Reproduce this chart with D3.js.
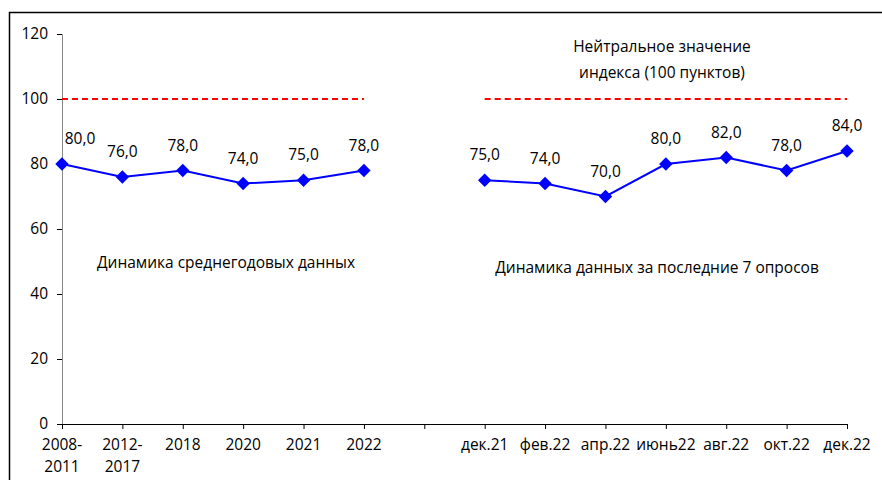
<!DOCTYPE html>
<html lang="ru">
<head>
    <meta charset="UTF-8"/>
    <title>D3</title>
    <script src="https://d3js.org/d3.v7.min.js" charset="utf-8"></script>
    <style type="text/css">
        body { margin: 0; background: #fff; }
        text {
            font-family: "Open Sans", sans-serif;
            font-size: 15.5px;
            fill: #000;
        }
        path.line {
            fill: none;
            stroke: #0000ff;
            stroke-width: 2px;
        }
        path.ref {
            fill: none;
            stroke: #ff0000;
            stroke-width: 2px;
            stroke-dasharray: 6,4;
        }
    </style>
</head>
<body>
<div id="chart"></div>
<script type="text/javascript">
    // categories (empty slot separates the two groups)
    var categories = ["2008-2011", "2012-2017", "2018", "2020", "2021", "2022", "",
        "дек.21", "фев.22", "апр.22", "июнь22", "авг.22", "окт.22", "дек.22"];
    var values = [80, 76, 78, 74, 75, 78, null, 75, 74, 70, 80, 82, 78, 84];
    var neutral = [100, 100, 100, 100, 100, 100, null, 100, 100, 100, 100, 100, 100, 100];
    var yTicks = [0, 20, 40, 60, 80, 100, 120];
    var notes = [
        {text: "Динамика среднегодовых данных", x: 226, y: 268},
        {text: "Динамика данных за последние 7 опросов", x: 657, y: 273},
        {text: "Нейтральное значение", x: 662, y: 52},
        {text: "индекса (100 пунктов)", x: 662, y: 78}
    ];

    var width = 882, height = 480;

    var svg = d3.select("#chart")
        .append("svg")
        .attr("width", width)
        .attr("height", height);

    // frame
    svg.append("rect")
        .attr("x", 9.5).attr("y", 12.5)
        .attr("width", 900).attr("height", 500)
        .attr("fill", "none")
        .attr("stroke", "#000")
        .attr("stroke-width", 1.5);

    var x = d3.scalePoint().domain(d3.range(categories.length)).range([62, 847]);
    var y = d3.scaleLinear().domain([0, 120]).range([424, 34]);

    // Y axis
    var yAxis = svg.append("g")
        .attr("transform", "translate(62,0)")
        .call(d3.axisLeft(y).tickValues(yTicks).tickSize(5).tickPadding(9));
    yAxis.select(".domain").attr("stroke", "#868686");
    yAxis.selectAll(".tick line").attr("stroke", "#000");

    // X axis
    var xAxis = svg.append("g")
        .attr("transform", "translate(0,424)")
        .call(d3.axisBottom(x).tickSize(5).tickSizeOuter(0).tickFormat(""));
    xAxis.select(".domain").attr("stroke", "#000");

    // x labels (can be two lines)
    svg.append("g")
        .selectAll("text")
        .data(categories)
        .enter()
        .append("text")
        .attr("text-anchor", "middle")
        .attr("transform", function (d, i) { return "translate(" + x(i) + ",450)"; })
        .each(function (d) {
            var parts = d.indexOf("-") > 0 ? [d.split("-")[0] + "-", d.split("-")[1]] : [d];
            d3.select(this).selectAll("tspan")
                .data(parts)
                .enter()
                .append("tspan")
                .attr("x", 0)
                .attr("dy", function (p, k) { return k ? 22 : 0; })
                .text(function (p) { return p; });
        });

    var idx = d3.range(categories.length);

    // neutral line
    svg.append("path")
        .attr("class", "ref")
        .attr("d", d3.line()
            .defined(function (i) { return neutral[i] != null; })
            .x(function (i) { return x(i); })
            .y(function (i) { return Math.round(y(neutral[i])); })(idx));

    // data line
    svg.append("path")
        .attr("class", "line")
        .attr("d", d3.line()
            .defined(function (i) { return values[i] != null; })
            .x(function (i) { return x(i); })
            .y(function (i) { return y(values[i]); })(idx));

    var pts = idx.filter(function (i) { return values[i] != null; });

    // markers
    svg.append("g")
        .selectAll("path")
        .data(pts)
        .enter()
        .append("path")
        .attr("d", d3.symbol().type(d3.symbolSquare).size(90))
        .attr("transform", function (i) { return "translate(" + x(i) + "," + y(values[i]) + ") rotate(45)"; })
        .attr("fill", "#0000ff");

    // value labels
    svg.append("g")
        .selectAll("text")
        .data(pts)
        .enter()
        .append("text")
        .attr("text-anchor", "middle")
        .attr("x", function (i) { return x(i) + (i === 0 ? 18 : 0); })
        .attr("y", function (i) { return y(values[i]) - 20; })
        .text(function (i) { return d3.format(".1f")(values[i]).replace(".", ","); });

    // annotations
    svg.append("g")
        .selectAll("text")
        .data(notes)
        .enter()
        .append("text")
        .attr("text-anchor", "middle")
        .attr("x", function (d) { return d.x; })
        .attr("y", function (d) { return d.y; })
        .text(function (d) { return d.text; });
</script>
</body>
</html>
